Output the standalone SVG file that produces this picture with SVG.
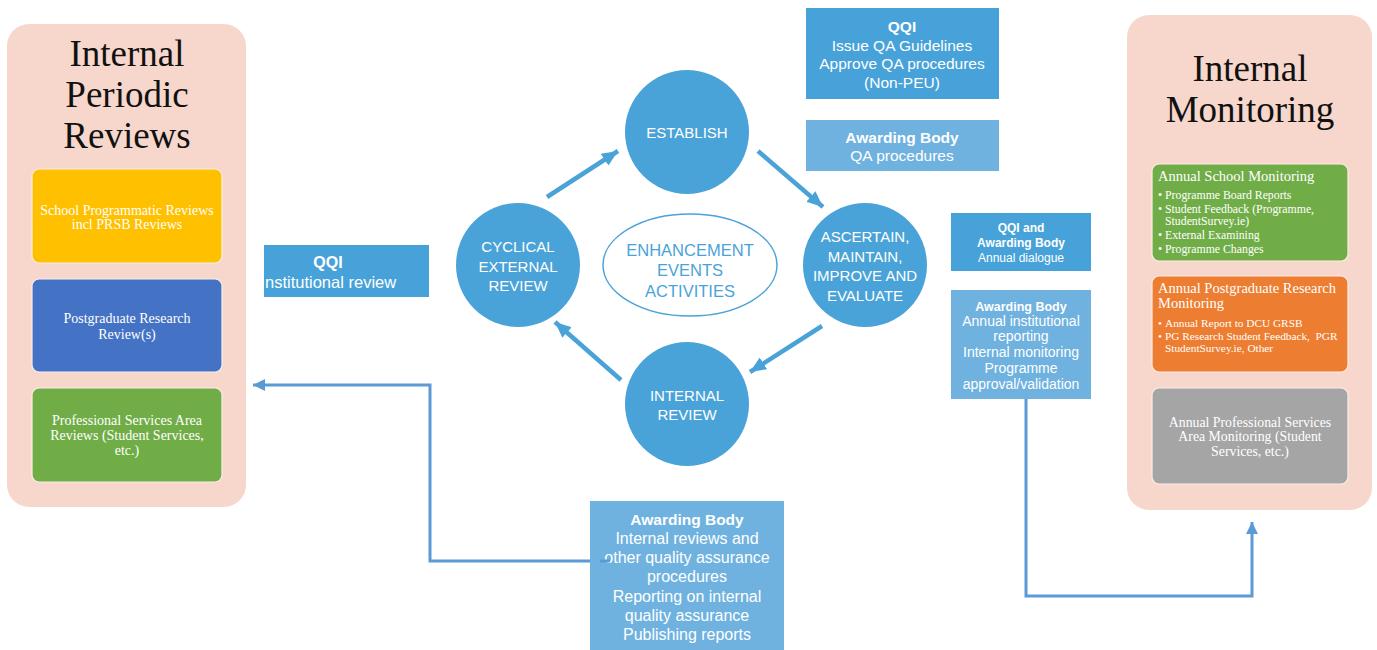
<svg xmlns="http://www.w3.org/2000/svg" width="1377" height="650" viewBox="0 0 1377 650">
<style>
.panel{fill:#f7d7cc}
.inner{stroke:#fbeee9;stroke-width:1.2}
.title{font-family:"Liberation Serif",serif;font-size:37px;fill:#111;text-anchor:middle}
.ser{font-family:"Liberation Serif",serif;fill:#fff}
.c{text-anchor:middle}
.circ{fill:#4aa3d8}
.ctext{font-family:"Liberation Sans",Arial,sans-serif;font-size:15px;fill:#fff;text-anchor:middle}
.dark{fill:#47a2d9}
.light{fill:#6fb2e0}
.sans{font-family:"Liberation Sans",Arial,sans-serif;fill:#fff;text-anchor:middle}
.b{font-weight:bold}
.arr{stroke:#4aa3d8;stroke-width:4.5;fill:none;marker-end:url(#big)}
.conn{stroke:#5b9bd5;stroke-width:3;fill:none;marker-end:url(#small)}
</style>
<defs>
<marker id="big" viewBox="0 0 16 14" refX="16" refY="7" markerWidth="16" markerHeight="14" markerUnits="userSpaceOnUse" orient="auto"><path d="M0,0 L16,7 L0,14 z" fill="#4aa3d8"/></marker>
<marker id="small" viewBox="0 0 12 12" refX="12" refY="6" markerWidth="12" markerHeight="12" markerUnits="userSpaceOnUse" orient="auto"><path d="M0,0 L12,6 L0,12 z" fill="#5b9bd5"/></marker>
</defs>
<rect width="1377" height="650" fill="#fff"/>

<g id="left-panel">
<rect class="panel" x="7" y="24" width="239" height="483" rx="22"/>
<text class="title" x="127" y="66">Internal</text>
<text class="title" x="127" y="107">Periodic</text>
<text class="title" x="127" y="148">Reviews</text>
</g>
<g id="school-reviews">
<rect class="inner" x="32" y="169" width="190" height="94" rx="7" fill="#ffc000"/>
<text class="ser c" font-size="14" x="127" y="214.5">School Programmatic Reviews</text>
<text class="ser c" font-size="14" x="127" y="229">incl PRSB Reviews</text>
</g>
<g id="pg-research-review">
<rect class="inner" x="32" y="279" width="190" height="93" rx="7" fill="#4472c4"/>
<text class="ser c" font-size="14" x="127" y="323">Postgraduate Research</text>
<text class="ser c" font-size="14" x="127" y="338.5">Review(s)</text>
</g>
<g id="ps-area-review">
<rect class="inner" x="32" y="388" width="190" height="94" rx="7" fill="#70ad47"/>
<text class="ser c" font-size="14" x="127" y="424.5">Professional Services Area</text>
<text class="ser c" font-size="14" x="127" y="439.5">Reviews (Student Services,</text>
<text class="ser c" font-size="14" x="127" y="454.5">etc.)</text>
</g>

<g id="right-panel">
<rect class="panel" x="1127" y="15" width="245" height="495" rx="22"/>
<text class="title" x="1250" y="80.5">Internal</text>
<text class="title" x="1250" y="121.5">Monitoring</text>
</g>
<g id="school-monitoring">
<rect class="inner" x="1152" y="164" width="196" height="97" rx="7" fill="#70ad47"/>
<text class="ser" font-size="14.5" x="1158" y="181">Annual School Monitoring</text>
<g font-size="11.8">
<text class="ser" x="1158" y="199">•</text><text class="ser" x="1165" y="199">Programme Board Reports</text>
<text class="ser" x="1158" y="213">•</text><text class="ser" x="1165" y="213">Student Feedback (Programme,</text>
<text class="ser" x="1165" y="225">StudentSurvey.ie)</text>
<text class="ser" x="1158" y="239">•</text><text class="ser" x="1165" y="239">External Examining</text>
<text class="ser" x="1158" y="253">•</text><text class="ser" x="1165" y="253">Programme Changes</text>
</g>
</g>
<g id="pgr-monitoring">
<rect class="inner" x="1152" y="276" width="196" height="96" rx="7" fill="#ed7d31"/>
<text class="ser" font-size="14.5" x="1158" y="293">Annual Postgraduate Research</text>
<text class="ser" font-size="14.5" x="1158" y="308">Monitoring</text>
<g font-size="11.3">
<text class="ser" x="1158" y="327">•</text><text class="ser" x="1165" y="327">Annual Report to DCU GRSB</text>
<text class="ser" x="1158" y="340">•</text><text class="ser" x="1165" y="340" xml:space="preserve">PG Research Student Feedback,  PGR</text>
<text class="ser" x="1165" y="352">StudentSurvey.ie, Other</text>
</g>
</g>
<g id="ps-monitoring">
<rect class="inner" x="1152" y="388" width="196" height="96" rx="7" fill="#a5a5a5"/>
<text class="ser c" font-size="13.8" x="1250" y="426.5">Annual Professional Services</text>
<text class="ser c" font-size="13.8" x="1250" y="441">Area Monitoring (Student</text>
<text class="ser c" font-size="13.8" x="1250" y="455.5">Services, etc.)</text>
</g>

<g id="connectors">
<line class="arr" x1="547" y1="197" x2="618" y2="151"/>
<line class="arr" x1="758" y1="151" x2="823" y2="207"/>
<line class="arr" x1="822" y1="326" x2="750" y2="372"/>
<line class="arr" x1="621" y1="380" x2="555" y2="322"/>
<polyline class="conn" points="607,561 430,561 430,385 253,385"/>
<polyline class="conn" points="1026,399 1026,596 1252,596 1252,522"/>
</g>

<g id="establish">
<circle class="circ" cx="687" cy="132" r="62"/>
<text class="ctext" x="687" y="138">ESTABLISH</text>
</g>
<g id="cyclical-external-review">
<circle class="circ" cx="518" cy="265" r="62"/>
<text class="ctext" x="518" y="252">CYCLICAL</text>
<text class="ctext" x="518" y="271.5">EXTERNAL</text>
<text class="ctext" x="518" y="290.5">REVIEW</text>
</g>
<g id="ascertain">
<circle class="circ" cx="865" cy="265" r="62"/>
<text class="ctext" x="865" y="242">ASCERTAIN,</text>
<text class="ctext" x="865" y="261.5">MAINTAIN,</text>
<text class="ctext" x="865" y="281">IMPROVE AND</text>
<text class="ctext" x="865" y="300.5">EVALUATE</text>
</g>
<g id="internal-review">
<circle class="circ" cx="687" cy="404" r="62"/>
<text class="ctext" x="687" y="400.5">INTERNAL</text>
<text class="ctext" x="687" y="419.5">REVIEW</text>
</g>
<g id="enhancement">
<ellipse cx="690" cy="265" rx="87" ry="51" fill="#fff" stroke="#4aa3d8" stroke-width="1.5"/>
<g font-family="Liberation Sans, Arial, sans-serif" font-size="16.5" fill="#4aa3d8" text-anchor="middle">
<text x="690" y="255.5">ENHANCEMENT</text>
<text x="690" y="276">EVENTS</text>
<text x="690" y="296.5">ACTIVITIES</text>
</g>
</g>

<g id="qqi-guidelines">
<rect class="dark" x="806" y="8" width="193" height="91"/>
<text class="sans b" font-size="15.5" x="902" y="31.5">QQI</text>
<text class="sans" font-size="15.5" x="902" y="50.5">Issue QA Guidelines</text>
<text class="sans" font-size="15.5" x="902" y="69">Approve QA procedures</text>
<text class="sans" font-size="15.5" x="902" y="87.5">(Non-PEU)</text>
</g>
<g id="ab-qa-procedures">
<rect class="light" x="806" y="120" width="193" height="51"/>
<text class="sans b" font-size="15.5" x="902" y="142.5">Awarding Body</text>
<text class="sans" font-size="15.5" x="902" y="160.5">QA procedures</text>
</g>
<g id="qqi-ab-dialogue">
<rect class="dark" x="951" y="213" width="140" height="58"/>
<text class="sans b" font-size="12" x="1021" y="232">QQI and</text>
<text class="sans b" font-size="12" x="1021" y="247">Awarding Body</text>
<text class="sans" font-size="12" x="1021" y="262">Annual dialogue</text>
</g>
<g id="ab-annual-reporting">
<rect class="light" x="951" y="290" width="140" height="109"/>
<text class="sans b" font-size="12.5" x="1021" y="310.5">Awarding Body</text>
<text class="sans" font-size="14" x="1021" y="326">Annual institutional</text>
<text class="sans" font-size="14" x="1021" y="341">reporting</text>
<text class="sans" font-size="14" x="1021" y="357">Internal monitoring</text>
<text class="sans" font-size="14" x="1021" y="373">Programme</text>
<text class="sans" font-size="14" x="1021" y="388.5">approval/validation</text>
</g>
<g id="qqi-institutional-review">
<rect class="dark" x="264" y="245" width="165" height="52"/>
<text class="sans b" font-size="16" x="328" y="267.5">QQI</text>
<text font-family="Liberation Sans, Arial, sans-serif" fill="#fff" font-size="16.5" x="265" y="287.5">nstitutional review</text>
</g>
<g id="ab-internal-reviews">
<rect class="light" x="590" y="501" width="194" height="149"/>
<text class="sans b" font-size="15.5" x="687" y="524.5">Awarding Body</text>
<text class="sans" font-size="16" x="687" y="543.5">Internal reviews and</text>
<text class="sans" font-size="16" x="687" y="562.5">other quality assurance</text>
<text class="sans" font-size="16" x="687" y="581.5">procedures</text>
<text class="sans" font-size="16" x="687" y="601.5">Reporting on internal</text>
<text class="sans" font-size="16" x="687" y="621">quality assurance</text>
<text class="sans" font-size="16" x="687" y="639.5">Publishing reports</text>
</g>
<line x1="600" y1="561" x2="610" y2="561" stroke="#5b9bd5" stroke-width="3"/>
</svg>
